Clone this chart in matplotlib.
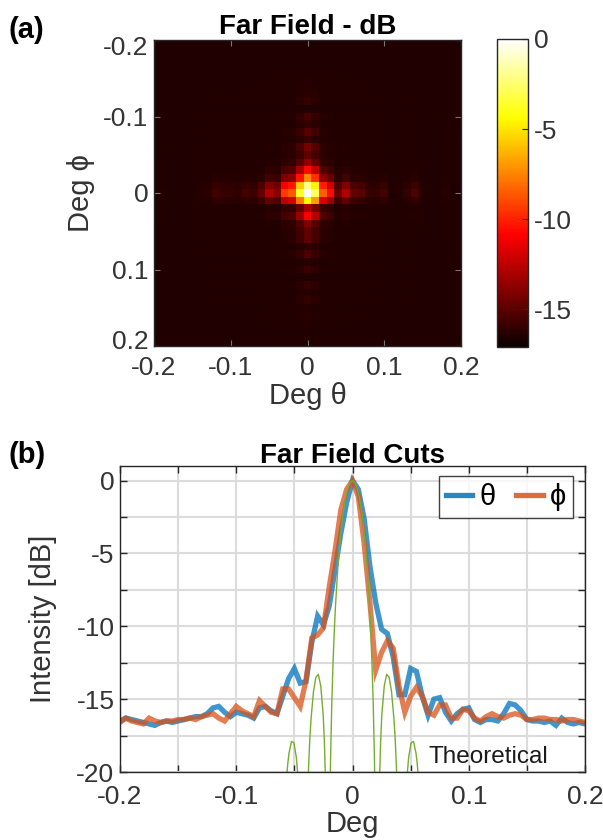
import numpy as np
import matplotlib
matplotlib.use("Agg")
import matplotlib.pyplot as plt
from matplotlib.lines import Line2D
from matplotlib.transforms import ScaledTranslation

plt.rcParams['font.family'] = ['Liberation Sans', 'DejaVu Sans']

# ---------------- data ----------------
deg = np.linspace(-0.2, 0.2, 81)

theta_db = [-16.5, -16.3, -16.4, -16.5, -16.6, -16.7, -16.8, -16.6, -16.5, -16.6,
            -16.5, -16.4, -16.3, -16.2, -16.2, -16.0, -15.6, -15.5, -15.9, -16.2,
            -15.9, -16.0, -16.1, -16.3, -15.6, -15.5, -15.8, -16.0, -14.8, -13.6,
            -12.9, -13.9, -13.8, -11.1, -9.3, -9.9, -8.6, -6.1, -3.6, -1.5,
            0.0, -0.6, -2.6, -5.9, -8.4, -10.2, -10.5, -12.1, -14.7, -14.7,
            -12.9, -13.1, -14.8, -16.1, -15.0, -14.9, -15.9, -16.5, -16.0, -15.7,
            -15.6, -16.4, -16.6, -16.4, -16.4, -16.5, -16.0, -15.3, -15.4, -15.8,
            -16.4, -16.5, -16.5, -16.6, -16.5, -16.8, -16.3, -16.6, -16.7, -16.6,
            -16.7]

phi_db = [-16.6, -16.3, -16.5, -16.6, -16.7, -16.3, -16.5, -16.6, -16.5, -16.5,
          -16.4, -16.4, -16.3, -16.4, -16.2, -16.1, -16.0, -16.3, -16.5, -16.0,
          -15.5, -15.8, -16.0, -16.2, -15.1, -15.5, -15.9, -16.0, -14.3, -14.3,
          -14.9, -15.5, -13.7, -10.8, -10.6, -10.1, -7.3, -4.8, -2.0, -0.6,
          0.0, -1.1, -4.3, -8.4, -13.0, -11.8, -11.0, -11.5, -14.1, -15.9,
          -14.8, -14.2, -14.8, -15.9, -16.1, -15.4, -15.4, -16.3, -16.3, -15.7,
          -15.8, -16.3, -16.5, -16.2, -16.0, -16.2, -16.3, -16.1, -16.0, -16.1,
          -16.4, -16.4, -16.3, -16.3, -16.4, -16.4, -16.5, -16.4, -16.4, -16.5,
          -16.6]

# theoretical pattern, positive half (mirrored about 0)
theo_x_pos = [0.0, 0.0021, 0.0042, 0.0063, 0.0084, 0.0105, 0.0126, 0.0147, 0.01575,
              0.0168, 0.01785, 0.0189, 0.01995, 0.0210,
              0.02205, 0.0231, 0.02415, 0.0252, 0.0273, 0.0294, 0.0315, 0.0336,
              0.0357, 0.03675, 0.0378, 0.03885, 0.0399, 0.04095, 0.0420,
              0.0441, 0.0462, 0.04725, 0.0483, 0.0504, 0.0525, 0.0546, 0.05565,
              0.0567, 0.0588, 0.0609, 0.0630]
theo_db_pos = [0.0, -0.14, -0.58, -1.33, -2.42, -3.92, -5.94, -8.69, -10.45,
               -12.62, -15.39, -19.23, -25.61, -45.0,
               -26.5, -21.0, -18.0, -16.1, -14.1, -13.3, -13.5, -14.5,
               -16.4, -17.8, -19.7, -22.2, -25.7, -31.9, -45.0,
               -26.6, -21.4, -20.0, -19.0, -18.0, -17.9, -18.7, -19.4,
               -20.4, -23.5, -29.4, -45.0]

floor_db = -16.5          # background level of the 2-D map
clim = (-17.1, 0)

xticks_b = [-0.2, -0.15, -0.1, -0.05, 0, 0.05, 0.1, 0.15, 0.2]
xticklabels_b = ['-0.2', '', '-0.1', '', '0', '', '0.1', '', '0.2']
yticks_b = [-20, -17.5, -15, -12.5, -10, -7.5, -5, -2.5, 0]
yticklabels_b = ['-20', '', '-15', '', '-10', '', '-5', '', '0']
ticks_a = [-0.2, -0.1, 0, 0.1, 0.2]
ticklabels_a = ['-0.2', '-0.1', '0', '0.1', '0.2']
cbar_ticks = [0, -5, -10, -15]

# ---------------- figure ----------------
W, H = 603, 840
fig = plt.figure(figsize=(W / 100, H / 100), dpi=100)

def box(l, t, r, b):
    return [l / W, 1 - b / H, (r - l) / W, (b - t) / H]

txt = '#333333'
frame = '#262626'
TICK = 19

# ---- (a) 2-D far field ----
ax1 = fig.add_axes(box(154, 40, 461, 346))
cax = fig.add_axes(box(497, 39, 528, 347))

th_img = np.array(theta_db)[::2]
ph_img = np.array(phi_db)[::2]
centers = np.array(deg)[::2]
f_lin = 10 ** (floor_db / 10)
lin_t = np.clip(10 ** (th_img / 10) - f_lin, 0, None)
lin_p = np.clip(10 ** (ph_img / 10) - f_lin, 0, None)
img = 10 * np.log10(np.outer(lin_p, lin_t) + f_lin)
step = centers[1] - centers[0]
edges = np.concatenate([centers - step / 2, [centers[-1] + step / 2]])
mesh = ax1.pcolormesh(edges, edges, img, cmap='hot', vmin=clim[0], vmax=clim[1],
                      shading='flat')
ax1.set_xlim(-0.2, 0.2)
ax1.set_ylim(0.2, -0.2)
ax1.set_xticks(ticks_a)
ax1.set_xticklabels(ticklabels_a)
ax1.set_yticks(ticks_a)
ax1.set_yticklabels(ticklabels_a)
ax1.tick_params(direction='in', length=4, width=0.8, color='#777777',
                labelsize=TICK, labelcolor=txt, top=True, right=True)
ax1.tick_params(axis='x', pad=7)
ax1.tick_params(axis='y', pad=4)
for s in ax1.spines.values():
    s.set_color(frame)
    s.set_linewidth(1.0)
ax1.set_title('Far Field - dB', fontsize=20, fontweight='bold', pad=4)
ax1.set_xlabel('Deg θ', fontsize=21, color=txt, labelpad=2)
ax1.set_ylabel('Deg ϕ', fontsize=21, color=txt, labelpad=6)
ylabs = ax1.get_yticklabels()
ylabs[0].set_transform(ylabs[0].get_transform() + ScaledTranslation(0, -4 / 72, fig.dpi_scale_trans))
ylabs[-1].set_transform(ylabs[-1].get_transform() + ScaledTranslation(0, 5 / 72, fig.dpi_scale_trans))

cb = fig.colorbar(mesh, cax=cax, ticks=cbar_ticks)
cb.ax.set_yticklabels([str(t) for t in cbar_ticks])
cb.ax.tick_params(direction='in', length=4, width=0.8, color=frame,
                  labelsize=TICK, labelcolor=txt, pad=4)
cb.outline.set_edgecolor(frame)
cb.outline.set_linewidth(1.0)

# ---- (b) cuts ----
ax2 = fig.add_axes(box(120, 466, 585, 772))
ax2.grid(True, color='#dcdcdc', linewidth=1.5)
ax2.set_axisbelow(True)
ax2.plot(deg, theta_db, color='#0072BD', lw=3.8, alpha=0.75, solid_joinstyle='miter')
ax2.plot(deg, phi_db, color='#D95319', lw=3.8, alpha=0.75, solid_joinstyle='miter')
theo_x = np.concatenate([-np.array(theo_x_pos[::-1]), np.array(theo_x_pos[1:])])
theo_db = np.concatenate([np.array(theo_db_pos[::-1]), np.array(theo_db_pos[1:])])
ax2.plot(theo_x, theo_db, color='#77AC30', lw=1.0)
ax2.set_xlim(-0.2, 0.2)
ax2.set_ylim(-20, 1)
ax2.set_xticks(xticks_b)
ax2.set_xticklabels(xticklabels_b)
ax2.set_yticks(yticks_b)
ax2.set_yticklabels(yticklabels_b)
ax2.tick_params(direction='in', length=5, width=1.0, color=frame,
                labelsize=TICK, labelcolor=txt, top=True, right=True)
ax2.tick_params(axis='x', pad=9)
ax2.tick_params(axis='y', pad=4)
for s in ax2.spines.values():
    s.set_color(frame)
    s.set_linewidth(1.0)
ax2.set_title('Far Field Cuts', fontsize=20, fontweight='bold', pad=2)
ax2.set_xlabel('Deg', fontsize=21, color=txt, labelpad=1)
ax2.set_ylabel('Intensity [dB]', fontsize=21, color=txt, labelpad=14)
ax2.text(0.065, -19.0, 'Theoretical', fontsize=17.5, color='#1a1a1a', va='center')

handles = [Line2D([], [], color='#0072BD', lw=3.8, alpha=0.85),
           Line2D([], [], color='#D95319', lw=3.8, alpha=0.85)]
leg = ax2.legend(handles, ['θ', 'ϕ'], ncol=2, loc='upper right',
                 bbox_to_anchor=(0.975, 0.968), fontsize=21, frameon=True,
                 fancybox=False, handlelength=0.9, handletextpad=0.25,
                 columnspacing=0.7, borderpad=0.25, borderaxespad=0)
leg.get_frame().set_edgecolor('#111111')
leg.get_frame().set_linewidth(1.0)

fig.text(8 / W, 1 - 16 / H, '(a)', fontsize=21, fontweight='bold', va='top')
fig.text(8 / W, 1 - 441 / H, '(b)', fontsize=21, fontweight='bold', va='top')

fig.savefig('out.png', dpi=100)
